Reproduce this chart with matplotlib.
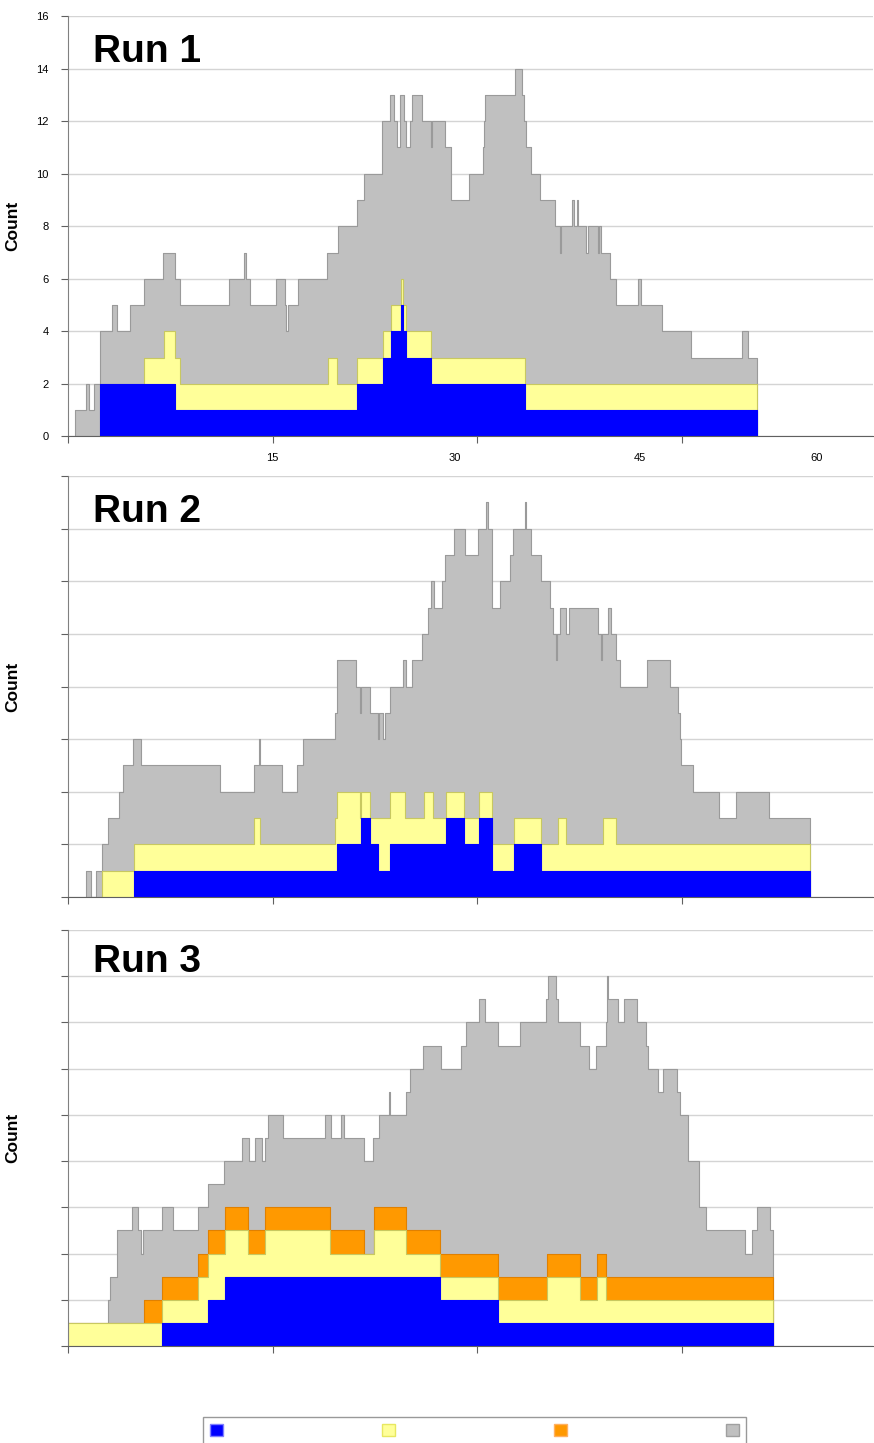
import matplotlib
matplotlib.use("Agg")
import matplotlib.pyplot as plt
from matplotlib.patches import Patch

plt.rcParams['font.family'] = ['Liberation Sans', 'DejaVu Sans']

# each pair (x, y): from x onwards the count is y (cumulative layers)
r1_all_x = [0.49, 1.34, 1.51, 1.90, 2.32, 3.22, 3.59, 4.52, 5.57, 6.96, 7.86, 8.18, 11.8, 12.87, 13.06, 13.31,
            15.26, 15.87, 16.0, 16.1, 16.85, 19.0, 19.8, 21.2, 21.68, 23.03, 23.57, 23.88, 24.13, 24.32, 24.62,
            24.79, 25.1, 25.2, 25.93, 26.57, 26.65, 27.6, 28.08, 29.4, 30.38, 30.48, 30.58, 32.75, 33.31, 33.43,
            33.56, 33.97, 34.63, 35.68, 36.05, 36.12, 36.97, 37.12, 37.27, 37.41, 37.95, 38.12, 38.85, 38.93,
            39.03, 39.71, 40.2, 41.78, 42.03, 43.57, 45.69, 49.43, 49.84, 50.53]
r1_all_y = [1, 2, 1, 2, 4, 5, 4, 5, 6, 7, 6, 5, 6, 7, 6, 5,
            6, 5, 4, 5, 6, 7, 8, 9, 10, 12, 13, 12, 11, 13, 12,
            11, 12, 13, 12, 11, 12, 11, 9, 10, 11, 12, 13, 14, 13, 12,
            11, 10, 9, 8, 7, 8, 9, 8, 9, 8, 7, 8, 7, 8,
            7, 6, 5, 6, 5, 4, 3, 4, 3, 0]
r1_yel_x = [2.32, 5.57, 7.0, 7.86, 8.18, 19.05, 19.73, 21.2, 23.08, 23.64, 24.42, 24.54, 24.79, 26.57, 33.48, 50.53]
r1_yel_y = [2, 3, 4, 3, 2, 3, 2, 3, 4, 5, 6, 5, 4, 3, 2, 0]
r1_blu_x = [2.32, 7.86, 21.2, 23.08, 23.64, 24.42, 24.54, 24.79, 26.57, 33.48, 50.53]
r1_blu_y = [2, 1, 2, 3, 4, 5, 4, 3, 2, 1, 0]

r2_all_x = [1.34, 1.71, 2.08, 2.52, 2.93, 3.71, 4.03, 4.76, 5.32, 11.11, 13.63, 13.97, 14.04, 15.7, 16.8,
            17.24, 19.54, 19.71, 21.12, 21.42, 21.49, 22.17, 22.71, 22.83, 23.08, 23.2, 23.57, 24.54, 24.79,
            25.2, 25.96, 26.37, 26.57, 26.81, 27.4, 27.64, 28.28, 29.09, 30.06, 30.62, 30.8, 31.04, 31.11,
            31.65, 32.43, 32.63, 33.48, 33.6, 33.97, 34.65, 35.31, 35.56, 35.75, 35.85, 36.05, 36.49, 36.73,
            38.85, 39.03, 39.17, 39.59, 39.83, 40.2, 40.44, 42.44, 44.1, 44.72, 44.84, 44.96, 45.81, 47.72,
            48.99, 51.38, 54.36]
r2_all_y = [1, 0, 1, 2, 3, 4, 5, 6, 5, 4, 5, 6, 5, 4, 5,
            6, 7, 9, 8, 7, 8, 7, 6, 7, 6, 7, 8, 9, 8,
            9, 10, 11, 12, 11, 12, 13, 14, 13, 14, 15, 14, 13, 11,
            12, 13, 14, 15, 14, 13, 12, 11, 10, 9, 10, 11, 10, 11,
            10, 9, 10, 11, 10, 9, 8, 9, 8, 7, 6, 5, 4, 3,
            4, 3, 0]
r2_yel_x = [2.52, 4.81, 13.63, 14.04, 19.54, 19.71, 21.42, 21.49, 22.17, 23.57, 24.71, 26.08, 26.74, 27.72,
            29.01, 30.14, 31.04, 32.68, 34.65, 35.92, 36.49, 39.22, 40.2, 54.36]
r2_yel_y = [1, 2, 3, 2, 3, 4, 3, 4, 3, 4, 3, 4, 3, 4, 3, 4, 2, 3, 2, 3, 2, 3, 2, 0]
r2_blu_x = [4.81, 19.71, 21.49, 22.1, 22.71, 23.57, 27.72, 29.01, 30.14, 31.04, 32.68, 34.65, 54.36]
r2_blu_y = [1, 2, 3, 2, 1, 2, 3, 2, 3, 1, 2, 1, 0]

r3_all_x = [0.0, 2.93, 3.05, 3.61, 4.69, 5.13, 5.32, 5.49, 6.91, 7.69, 9.52, 10.26, 11.43, 12.75, 13.24,
            13.68, 14.21, 14.41, 14.65, 15.75, 18.8, 19.24, 20.02, 20.22, 21.73, 22.34, 22.76, 23.52, 23.61,
            24.79, 25.03, 26.01, 27.35, 28.84, 29.16, 30.14, 30.55, 31.53, 33.16, 35.02, 35.19, 35.75, 35.92,
            37.51, 38.2, 38.73, 39.42, 39.5, 39.56, 40.32, 40.73, 41.71, 42.35, 42.52, 43.25, 43.62, 44.64,
            44.84, 45.45, 46.25, 46.79, 49.6, 50.16, 50.53, 51.48, 51.68]
r3_all_y = [1, 2, 3, 5, 6, 5, 4, 5, 6, 5, 6, 7, 8, 9, 8,
            9, 8, 9, 10, 9, 10, 9, 10, 9, 8, 9, 10, 11, 10,
            11, 12, 13, 12, 13, 14, 15, 14, 13, 14, 15, 16, 15, 14,
            13, 12, 13, 14, 16, 15, 14, 15, 14, 13, 12, 11, 12, 11,
            10, 8, 6, 5, 4, 5, 6, 5, 0]
r3_org_x = [0.0, 5.57, 6.91, 9.52, 10.26, 11.48, 13.19, 14.41, 19.17, 21.68, 22.42, 24.79, 27.25, 31.53,
            35.12, 37.51, 38.78, 39.46, 51.68]
r3_org_y = [1, 2, 3, 4, 5, 6, 5, 6, 5, 4, 6, 5, 4, 3, 4, 3, 4, 3, 0]
r3_yel_x = [0.0, 6.91, 9.52, 10.26, 11.48, 13.19, 14.41, 19.17, 22.42, 24.79, 27.25, 31.53, 35.12, 37.51,
            38.78, 39.46, 51.68]
r3_yel_y = [1, 2, 3, 4, 5, 4, 5, 4, 5, 4, 3, 2, 3, 2, 3, 2, 0]
r3_blu_x = [6.91, 10.26, 11.48, 27.25, 31.53, 51.68]
r3_blu_y = [1, 2, 3, 2, 1, 0]

run_titles = ["Run 1", "Run 2", "Run 3"]
run_ymax = [16, 16, 18]
x_ticks = [0, 15, 30, 45]
x_label_pos = [14.95, 28.35, 41.9, 54.87]
x_labels = ["15", "30", "45", "60"]

BLUE, YEL, ORG, GRAY = "#0000ff", "#ffff99", "#ff9900", "#c0c0c0"

W, H = 874, 1443
fig = plt.figure(figsize=(W / 100, H / 100), dpi=100)


def box(top, bottom):
    return [68 / W, 1 - bottom / H, (873 - 68) / W, (bottom - top) / H]


axes = [fig.add_axes(box(16, 436.5)), fig.add_axes(box(476, 897)), fig.add_axes(box(930, 1346))]


def layer(ax, x, y, face, edge):
    ax.fill_between(x, y, step="post", facecolor=face, edgecolor=edge, linewidth=0.8, zorder=2)


layer(axes[0], r1_all_x, r1_all_y, GRAY, "#9a9a9a")
layer(axes[0], r1_yel_x, r1_yel_y, YEL, "#c8c860")
layer(axes[0], r1_blu_x, r1_blu_y, BLUE, BLUE)

layer(axes[1], r2_all_x, r2_all_y, GRAY, "#9a9a9a")
layer(axes[1], r2_yel_x, r2_yel_y, YEL, "#c8c860")
layer(axes[1], r2_blu_x, r2_blu_y, BLUE, BLUE)

layer(axes[2], r3_all_x, r3_all_y, GRAY, "#9a9a9a")
layer(axes[2], r3_org_x, r3_org_y, ORG, "#e08000")
layer(axes[2], r3_yel_x, r3_yel_y, YEL, "#c8c860")
layer(axes[2], r3_blu_x, r3_blu_y, BLUE, BLUE)

for i, ax in enumerate(axes):
    ax.set_xlim(0, 59)
    ax.set_ylim(0, run_ymax[i])
    ax.set_yticks(range(0, run_ymax[i] + 1, 2))
    ax.set_xticks(x_ticks)
    ax.set_xticklabels([])
    ax.grid(axis="y", color="#d4d4d4", linewidth=1, zorder=0)
    ax.set_axisbelow(True)
    for s in ["top", "right"]:
        ax.spines[s].set_visible(False)
    ax.spines["left"].set_color("#808080")
    ax.spines["bottom"].set_color("#606060")
    ax.tick_params(axis="both", which="major", length=5, color="#606060", direction="out")
    ax.set_ylabel("Count", fontsize=12.5, fontweight="bold")
    ax.yaxis.set_label_coords(-48 / 805, 0.5)
    ax.text(0.031, 0.89 if i < 2 else 0.9, run_titles[i], transform=ax.transAxes,
            fontsize=28, fontweight="bold", va="baseline", zorder=5)
    if i == 0:
        ax.tick_params(axis="y", labelsize=8, pad=9)
        ax.set_xticks(x_label_pos, minor=True)
        ax.set_xticklabels(x_labels, minor=True)
        ax.tick_params(axis="x", which="minor", length=0, labelsize=8, pad=12)
    else:
        ax.set_yticklabels([])

handles = [Patch(facecolor=BLUE, edgecolor="#8080ff"),
           Patch(facecolor=YEL, edgecolor="#e8e860"),
           Patch(facecolor=ORG, edgecolor="#ffb060"),
           Patch(facecolor=GRAY, edgecolor="#a0a0a0")]
leg = fig.legend(handles, ["", "", "", ""], loc="upper left",
                 bbox_to_anchor=(203 / W, 1 - 1417 / H, (746 - 203) / W, 0.0), mode="expand",
                 ncol=4, frameon=True, fancybox=False, edgecolor="#808080", borderpad=0.5,
                 handlelength=0.95, handleheight=0.95, handletextpad=0, fontsize=10, borderaxespad=0)
leg.get_frame().set_linewidth(1)

fig.savefig("out.png", dpi=100)
